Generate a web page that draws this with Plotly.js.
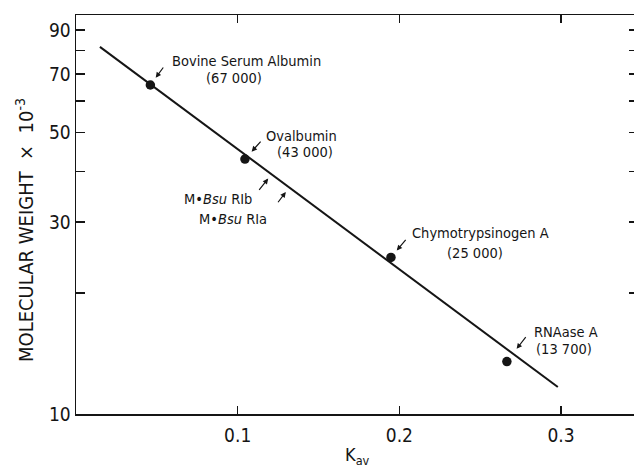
<!DOCTYPE html>
<html><head><meta charset="utf-8">
<script src="https://cdn.plot.ly/plotly-3.0.1.min.js"></script>
<style>html,body{margin:0;padding:0;overflow:hidden;background:#fff}#c{width:640px;height:469px}</style>
</head><body><div id="c"></div>
<script>
// Marker proteins (Kav, molecular weight x 10^-3)
const proteins = ['Bovine Serum Albumin', 'Ovalbumin', 'Chymotrypsinogen A', 'RNAase A'];
const proteinMW = ['(67 000)', '(43 000)', '(25 000)', '(13 700)'];
const kav = [0.046, 0.1045, 0.1948, 0.2665];
const mw = [65.7, 43.0, 24.5, 13.5];
// Calibration line endpoints
const lineKav = [0.0148, 0.298];
const lineMW = [81.7, 11.67];
// Enzymes located on the line
const enzymes = ['M•<i>Bsu</i> RIb', 'M•<i>Bsu</i> RIa'];
const enzKav = [0.1212, 0.132];
const enzMW = [39.5, 36.6];
// Axis ticks
const yTickVals = [10, 20, 30, 40, 50, 60, 70, 80, 90];
const yTickText = ['10', '', '30', '', '50', '', '70', '', '90'];
const xTickVals = [0.1, 0.2, 0.3];
const xTickText = ['0.1', '0.2', '0.3'];

const FONT = '"DejaVu Sans Condensed", "DejaVu Sans", sans-serif';
const INK = '#151515';

const traces = [
  {x: lineKav, y: lineMW, mode: 'lines', line: {color: INK, width: 2}, hoverinfo: 'skip'},
  {x: kav, y: mw, mode: 'markers', marker: {color: INK, size: 9.5}, hoverinfo: 'skip'}
];

// label layout offsets (px) relative to each point
const nameShift = [[20, 24], [19, 23], [19, 24], [25, 30]];
const mwShift = [[84, 7], [60, 7], [84, 4], [57, 13]];
const arrowTail = [[14, -19], [17, -19], [16, -19], [20, -26]];
const arrowStand = [9, 10, 9, 16];

const ann = [];
proteins.forEach((p, i) => {
  ann.push({x: kav[i], y: Math.log10(mw[i]), xref: 'x', yref: 'y', text: p, showarrow: false,
    xanchor: 'left', yanchor: 'middle', xshift: nameShift[i][0], yshift: nameShift[i][1],
    font: {family: FONT, size: 14.5, color: INK}});
  ann.push({x: kav[i], y: Math.log10(mw[i]), xref: 'x', yref: 'y', text: proteinMW[i], showarrow: false,
    xanchor: 'center', yanchor: 'middle', xshift: mwShift[i][0], yshift: mwShift[i][1],
    font: {family: FONT, size: 14.5, color: INK}});
  ann.push({x: kav[i], y: Math.log10(mw[i]), xref: 'x', yref: 'y', text: '', showarrow: true,
    ax: arrowTail[i][0], ay: arrowTail[i][1], standoff: arrowStand[i],
    arrowhead: 2, arrowsize: 0.9, arrowwidth: 1.2, arrowcolor: INK});
});
const enzLabel = [[-90, -25.5], [-92.5, -31.5]];
const enzTail = [[-14, 17.5], [-12.5, 16.5]];
enzymes.forEach((e, i) => {
  ann.push({x: enzKav[i], y: Math.log10(enzMW[i]), xref: 'x', yref: 'y', text: e, showarrow: false,
    xanchor: 'left', yanchor: 'middle', xshift: enzLabel[i][0], yshift: enzLabel[i][1],
    font: {family: FONT, size: 14.5, color: INK}});
  ann.push({x: enzKav[i], y: Math.log10(enzMW[i]), xref: 'x', yref: 'y', text: '', showarrow: true,
    ax: enzTail[i][0], ay: enzTail[i][1], standoff: 6,
    arrowhead: 2, arrowsize: 0.9, arrowwidth: 1.2, arrowcolor: INK});
});
// axis titles
ann.push({xref: 'paper', yref: 'paper', x: 0, y: 0.461, xshift: -51, textangle: -90,
  text: 'MOLECULAR WEIGHT  ×  10<sup>-3</sup>', showarrow: false, xanchor: 'center', yanchor: 'middle',
  font: {family: FONT, size: 20, color: INK}});
ann.push({xref: 'paper', yref: 'paper', x: 0.5, y: 0, yshift: -42, xanchor: 'center', yanchor: 'middle',
  text: 'K<sub>av</sub>', showarrow: false, font: {family: FONT, size: 18, color: INK}});

const layout = {
  width: 640, height: 469,
  margin: {l: 76, r: 2, t: 15, b: 55},
  paper_bgcolor: '#fff', plot_bgcolor: '#fff',
  showlegend: false,
  font: {family: FONT, size: 19, color: INK},
  xaxis: {range: [0, 0.3476], tickvals: xTickVals, ticktext: xTickText,
    ticks: 'inside', ticklen: 8, tickwidth: 1.3, tickcolor: INK,
    showline: true, linecolor: INK, linewidth: 1.5, mirror: 'ticks',
    showgrid: false, zeroline: false, ticklabelstandoff: 4,
    tickfont: {family: FONT, size: 19, color: INK}},
  yaxis: {type: 'log', range: [1, 1.9915], tickvals: yTickVals, ticktext: yTickText,
    ticks: 'inside', ticklen: 9, tickwidth: 1.3, tickcolor: INK,
    showline: true, linecolor: INK, linewidth: 1.5, mirror: 'ticks',
    showgrid: false, zeroline: false, ticklabelstandoff: 0,
    tickfont: {family: FONT, size: 19, color: INK}},
  annotations: ann
};
Plotly.newPlot('c', traces, layout, {staticPlot: true, displayModeBar: false});
</script></body></html>
